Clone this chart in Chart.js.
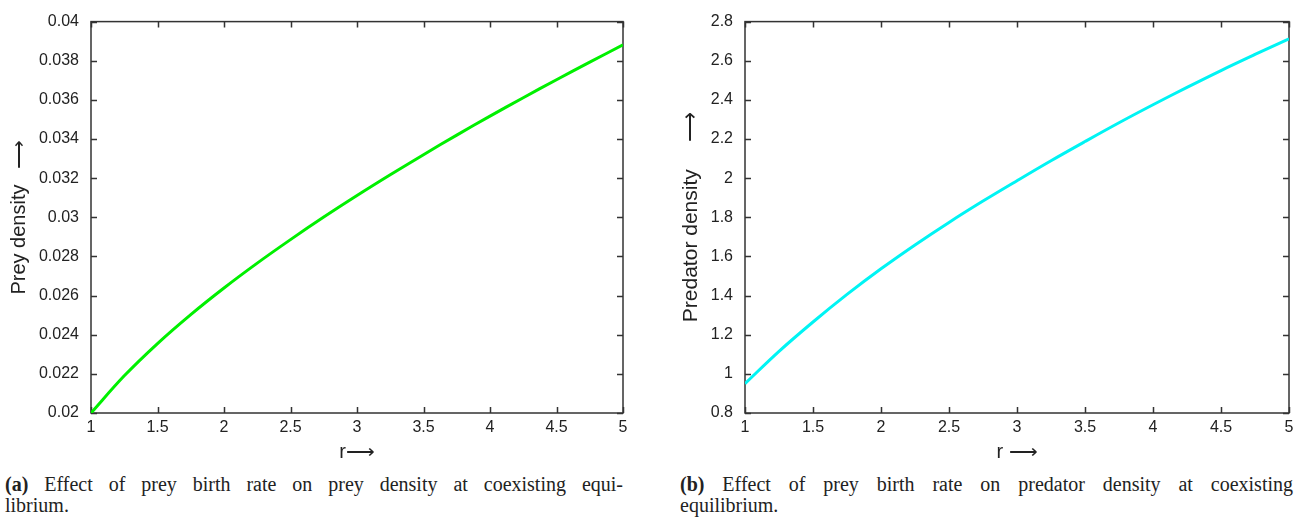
<!doctype html>
<html>
<head>
<meta charset="utf-8">
<title>Effect of prey birth rate at coexisting equilibrium</title>
<style>
  body { margin: 0; background: #fff; width: 1305px; height: 522px; position: relative; overflow: hidden; }
  canvas { position: absolute; top: 0; }
  #prey { left: 0; }
  #pred { left: 650px; }
  .caption { position: absolute; top: 474px; font-family: "Liberation Serif", "DejaVu Serif", serif; font-size: 20px; line-height: 21px; color: #222; }
  .caption .l1 { text-align: justify; text-align-last: justify; }
  .caption b { font-weight: bold; }
</style>
</head>
<body>
  <canvas id="prey" width="640" height="470"></canvas>
  <canvas id="pred" width="655" height="470"></canvas>

  <div class="caption" style="left:5px; width:618px;">
    <div class="l1"><b>(a)</b> Effect of prey birth rate on prey density at coexisting equi-</div>
    <div>librium.</div>
  </div>
  <div class="caption" style="left:680px; width:613px;">
    <div class="l1"><b>(b)</b> Effect of prey birth rate on predator density at coexisting</div>
    <div>equilibrium.</div>
  </div>

  <script src="https://cdn.jsdelivr.net/npm/chart.js@4.4.1/dist/chart.umd.min.js"></script>
  <script>
    // prey birth rate r
    const rValues = [1, 1.25, 1.5, 1.75, 2, 2.25, 2.5, 2.75, 3, 3.25, 3.5, 3.75, 4, 4.25, 4.5, 4.75, 5];
    // equilibrium densities
    const preyDensity = [0.02, 0.0219, 0.02355, 0.02503, 0.02639, 0.02766, 0.02886, 0.03001, 0.03111,
                         0.03217, 0.0332, 0.0342, 0.03517, 0.03611, 0.03703, 0.03793, 0.03881];
    const predatorDensity = [0.95, 1.115, 1.265, 1.406, 1.537, 1.659, 1.774, 1.883, 1.987,
                             2.089, 2.187, 2.283, 2.375, 2.464, 2.55, 2.632, 2.712];

    // axis ticks
    const rTicks = [1, 1.5, 2, 2.5, 3, 3.5, 4, 4.5, 5];
    const preyTicks = [0.02, 0.022, 0.024, 0.026, 0.028, 0.03, 0.032, 0.034, 0.036, 0.038, 0.04];
    const predatorTicks = [0.8, 1, 1.2, 1.4, 1.6, 1.8, 2, 2.2, 2.4, 2.6, 2.8];

    const TEXT = '#222';
    const SANS = '"Liberation Sans", Arial, sans-serif';
    const tickFont = { family: SANS, size: 16 };
    // long arrow glyph falls back to DejaVu, which draws a full-size arrow
    const ARROW = '\u27F6';

    // gnuplot style frame: box round the plot, ticks pointing inward on all four sides
    const frameTicks = {
      id: 'frameTicks',
      beforeDatasetsDraw(chart) {
        const { ctx, chartArea: a, scales: { x, y } } = chart;
        const len = 6;
        ctx.save();
        ctx.lineWidth = 1.5;
        ctx.strokeStyle = '#333';
        ctx.strokeRect(a.left, a.top, a.right - a.left, a.bottom - a.top);
        ctx.beginPath();
        x.ticks.forEach(t => {
          const px = Math.round(x.getPixelForValue(t.value)) + 0.5;
          ctx.moveTo(px, a.bottom); ctx.lineTo(px, a.bottom - len);
          ctx.moveTo(px, a.top); ctx.lineTo(px, a.top + len);
        });
        y.ticks.forEach(t => {
          const py = Math.round(y.getPixelForValue(t.value)) + 0.5;
          ctx.moveTo(a.left, py); ctx.lineTo(a.left + len, py);
          ctx.moveTo(a.right, py); ctx.lineTo(a.right - len, py);
        });
        ctx.stroke();
        ctx.restore();
      }
    };

    function makeChart(id, values, color, yTicks, yTitle, yTitleSize, xTitle, o) {
      return new Chart(document.getElementById(id), {
        type: 'line',
        data: {
          datasets: [{
            data: rValues.map((r, i) => ({ x: r, y: values[i] })),
            borderColor: color,
            borderWidth: 3,
            pointRadius: 0,
            tension: 0.35,
            fill: false
          }]
        },
        options: {
          responsive: false,
          animation: false,
          layout: { padding: { top: 15, right: o.right, left: 0, bottom: 0 } },
          plugins: { legend: { display: false }, tooltip: { enabled: false } },
          scales: {
            x: {
              type: 'linear', min: 1, max: 5,
              afterBuildTicks: s => { s.ticks = rTicks.map(v => ({ value: v })); },
              afterFit: s => { s.height = 57; },
              grid: { display: false, drawTicks: false },
              border: { display: false },
              ticks: { color: TEXT, font: tickFont, padding: 5, maxRotation: 0, callback: v => String(v) },
              title: {
                display: true, text: xTitle, color: TEXT,
                font: { family: SANS, size: 20 },
                padding: { top: 0, bottom: 6 }
              }
            },
            y: {
              type: 'linear', min: yTicks[0], max: yTicks[yTicks.length - 1],
              afterBuildTicks: s => { s.ticks = yTicks.map(v => ({ value: v })); },
              afterFit: s => { s.width = o.axisWidth; },
              grid: { display: false, drawTicks: false },
              border: { display: false },
              ticks: { color: TEXT, font: tickFont, padding: 12, callback: v => String(v) },
              title: {
                display: true, text: yTitle, color: TEXT,
                font: { family: SANS, size: yTitleSize },
                padding: { top: o.titlePad, bottom: 0 }
              }
            }
          }
        },
        plugins: [frameTicks]
      });
    }

    makeChart('prey', preyDensity, '#00f000', preyTicks, 'Prey density \u2002' + ARROW, 20, 'r' + ARROW,
      { right: 17, axisWidth: 91, titlePad: 7 });
    makeChart('pred', predatorDensity, '#00f4f4', predatorTicks, 'Predator density \u2003' + ARROW, 21, 'r ' + ARROW,
      { right: 16, axisWidth: 95, titlePad: 29 });
  </script>
</body>
</html>
